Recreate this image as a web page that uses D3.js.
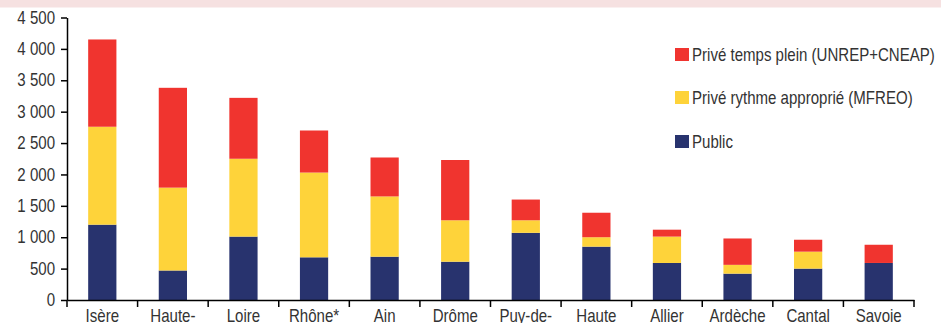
<!DOCTYPE html>
<html>
<head>
<meta charset="utf-8">
<script src="https://cdn.jsdelivr.net/npm/d3@7"></script>
<style>
  html, body { margin: 0; padding: 0; background: #fff; }
  svg { display: block; }
  text { font-family: "Liberation Sans", Arial, sans-serif; fill: #333; }
</style>
</head>
<body>
<svg id="chart" width="941" height="323"></svg>
<script>
const categories = ["Isère", "Haute-", "Loire", "Rhône*", "Ain", "Drôme", "Puy-de-", "Haute", "Allier", "Ardèche", "Cantal", "Savoie"];
const publicValues = [1200, 470, 1010, 680, 690, 610, 1070, 850, 590, 420, 500, 590];
const mfreoValues  = [1560, 1320, 1240, 1350, 960, 660, 200, 150, 420, 140, 270, 0];
const priveValues  = [1390, 1590, 970, 670, 620, 960, 330, 390, 110, 420, 190, 290];
const seriesNames = ["Public", "Privé rythme approprié (MFREO)", "Privé temps plein (UNREP+CNEAP)"];
const seriesColors = ["#28336e", "#fed33a", "#f0342f"];
const yTicks = [0, 500, 1000, 1500, 2000, 2500, 3000, 3500, 4000, 4500];

(function () {
const svg = d3.select("#chart");
const W = 941;
const condense = 0.86;

// pink title band at the top
svg.append("rect").attr("x", 0).attr("y", 0).attr("width", W).attr("height", 7.5).attr("fill", "#f6e1e1");

const mLeft = 67, mRight = 914, mTop = 17.5, mBottom = 300;
const x = d3.scaleBand().domain(categories).range([mLeft, mRight]).paddingInner(0.6).paddingOuter(0.3);
const y = d3.scaleLinear().domain([0, 4500]).range([mBottom, mTop]);

const rows = categories.map((c, i) => ({
  cat: c,
  "Public": publicValues[i],
  "Privé rythme approprié (MFREO)": mfreoValues[i],
  "Privé temps plein (UNREP+CNEAP)": priveValues[i]
}));
const stack = d3.stack().keys(seriesNames)(rows);

svg.append("g").selectAll("g").data(stack).join("g")
  .attr("fill", (d, i) => seriesColors[i])
  .selectAll("rect").data(d => d).join("rect")
  .attr("x", d => x(d.data.cat))
  .attr("width", x.bandwidth())
  .attr("y", d => y(d[1]))
  .attr("height", d => y(d[0]) - y(d[1]));

const loc = d3.formatLocale({ decimal: ",", thousands: " ", grouping: [3], currency: ["", "€"] });
const fmt = loc.format(",d");

const yAxis = svg.append("g").attr("transform", `translate(${mLeft},0)`)
  .call(d3.axisLeft(y).tickValues(yTicks).tickFormat(fmt).tickSize(6).tickPadding(6).tickSizeOuter(0));
yAxis.selectAll("text").style("font-size", "17.5px").attr("fill", "#333");

const xAxis = svg.append("g").attr("transform", `translate(0,${mBottom})`)
  .call(d3.axisBottom(x).tickSize(0).tickPadding(10).tickSizeOuter(0));
xAxis.selectAll("text").style("font-size", "17.5px").attr("fill", "#333");
// boundary ticks between categories
xAxis.selectAll(".bnd").data(d3.range(categories.length + 1)).join("line")
  .attr("class", "bnd")
  .attr("x1", i => mLeft + i * x.step())
  .attr("x2", i => mLeft + i * x.step())
  .attr("y1", 0).attr("y2", 7)
  .attr("stroke", "#000").attr("stroke-width", 1.5);

svg.selectAll(".domain").attr("stroke", "#000").attr("stroke-width", 1.5);
yAxis.selectAll(".tick line").attr("stroke", "#000").attr("stroke-width", 1.5);

// legend
const legendItems = [
  { name: seriesNames[2], color: seriesColors[2], y: 61 },
  { name: seriesNames[1], color: seriesColors[1], y: 104 },
  { name: seriesNames[0], color: seriesColors[0], y: 148 }
];
const lg = svg.append("g").selectAll("g").data(legendItems).join("g");
lg.append("rect").attr("x", 675).attr("y", d => d.y - 13).attr("width", 14).attr("height", 13).attr("fill", d => d.color);
lg.append("text").attr("x", 692).attr("y", d => d.y).style("font-size", "17.5px").text(d => d.name);

// condensed look: squeeze every text horizontally around its anchor point
svg.selectAll("text").each(function () {
  const t = d3.select(this);
  const x0 = +(t.attr("x") || 0);
  const y0 = +(t.attr("y") || 0);
  t.attr("x", 0).attr("y", 0)
   .attr("transform", `translate(${x0},${y0}) scale(${condense},1)`);
});
})();
</script>
</body>
</html>
